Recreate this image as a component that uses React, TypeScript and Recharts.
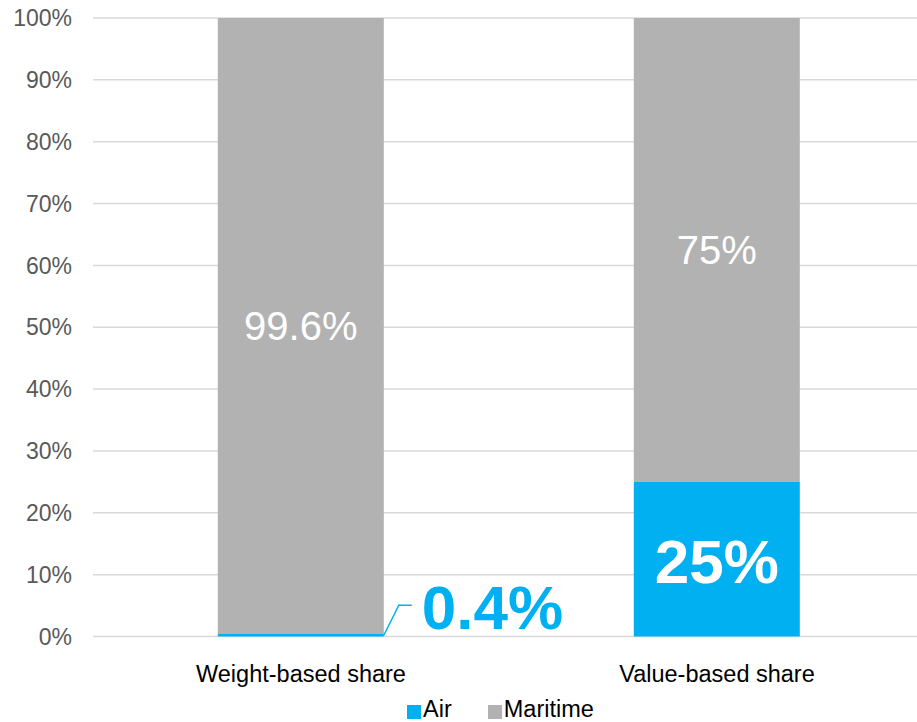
import { BarChart, Bar, XAxis, YAxis, CartesianGrid, Legend, LabelList } from "recharts";

const categories = ["Weight-based share", "Value-based share"];
const airShare = [0.4, 25];
const maritimeShare = [99.6, 75];
const airLabels = ["0.4%", "25%"];
const maritimeLabels = ["99.6%", "75%"];
const yTicks = [0, 10, 20, 30, 40, 50, 60, 70, 80, 90, 100];

const AIR = "#00B0F0";
const MARITIME = "#B2B2B2";
const FONT = '"Liberation Sans", Arial, sans-serif';

const data = categories.map((name, i) => ({
  name,
  air: airShare[i],
  maritime: maritimeShare[i],
}));

function MaritimeLabel(props: any) {
  const { x, y, width, height, index } = props;
  const cx = x + width / 2;
  const cy = y + height / 2;
  return (
    <text x={cx} y={cy + 0.358 * 40} textAnchor="middle" fill="#fff" fontSize={40} fontFamily={FONT}>
      {maritimeLabels[index]}
    </text>
  );
}

function AirLabel(props: any) {
  const { x, y, width, height, index } = props;
  if (height > 20) {
    const cx = x + width / 2;
    const cy = y + height / 2 + 2;
    return (
      <text x={cx} y={cy + 0.358 * 62} textAnchor="middle" fill="#fff" fontSize={62} fontWeight="bold" fontFamily={FONT}>
        {airLabels[index]}
      </text>
    );
  }
  // small slice: leader line out to the right
  const x0 = x + width;
  const y0 = y + height / 2;
  const y1 = y0 - 30;
  return (
    <g>
      <polyline points={`${x0},${y0} ${x0 + 15},${y1} ${x0 + 28},${y1}`} fill="none" stroke={AIR} strokeWidth={1.5} />
      <text x={x0 + 38} y={y1 + 2 + 0.358 * 62} textAnchor="start" fill={AIR} fontSize={62} fontWeight="bold" fontFamily={FONT}>
        {airLabels[index]}
      </text>
    </g>
  );
}

function LegendContent() {
  const items = [
    { label: "Air", color: AIR },
    { label: "Maritime", color: MARITIME },
  ];
  return (
    <div style={{ display: "flex", justifyContent: "flex-start", gap: 36, fontFamily: FONT, fontSize: 23.5, color: "#000", paddingLeft: 407, paddingTop: 9 }}>
      {items.map((it) => (
        <div key={it.label} style={{ display: "flex", alignItems: "center", lineHeight: "27px" }}>
          <span style={{ display: "inline-block", width: 14, height: 14, background: it.color, marginRight: 2, marginTop: 5 }} />
          <span>{it.label}</span>
        </div>
      ))}
    </div>
  );
}

export default function App() {
  return (
    <div style={{ position: "fixed", left: 0, top: 0, width: 917, height: 722, overflow: "hidden", background: "#fff" }}>
      <BarChart
        width={925}
        height={722}
        data={data}
        margin={{ top: 18, right: 0, left: 0, bottom: 0 }}
        barCategoryGap="30%"
      >
        <CartesianGrid vertical={false} stroke="#D9D9D9" strokeWidth={1.5} />
        <XAxis
          dataKey="name"
          axisLine={false}
          tickLine={false}
          tickSize={0}
          tickMargin={29}
          height={50}
          tick={{ fill: "#000", fontSize: 23.5, fontFamily: FONT }}
        />
        <YAxis
          domain={[0, 100]}
          ticks={yTicks}
          interval={0}
          width={93}
          axisLine={false}
          tickLine={false}
          tickSize={0}
          tickMargin={21}
          tickFormatter={(v: number) => `${v}%`}
          tick={{ fill: "#595959", fontSize: 23, fontFamily: FONT }}
        />
        <Legend verticalAlign="bottom" content={<LegendContent />} wrapperStyle={{ height: 35.5, bottom: 0, left: 0, width: 917 }} />
        <Bar dataKey="air" name="Air" stackId="a" fill={AIR} isAnimationActive={false}>
          <LabelList dataKey="air" content={<AirLabel />} />
        </Bar>
        <Bar dataKey="maritime" name="Maritime" stackId="a" fill={MARITIME} isAnimationActive={false}>
          <LabelList dataKey="maritime" content={<MaritimeLabel />} />
        </Bar>
      </BarChart>
    </div>
  );
}
